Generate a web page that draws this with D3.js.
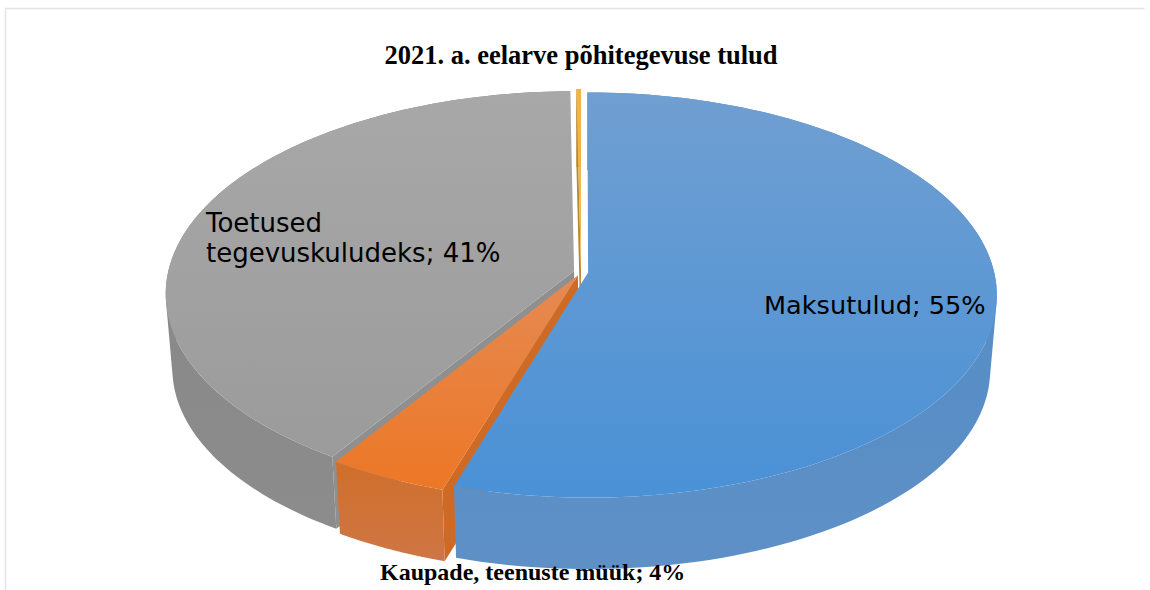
<!DOCTYPE html>
<html>
<head>
<meta charset="utf-8">
<script src="https://cdn.jsdelivr.net/npm/d3@7"></script>
<style>
  html, body { margin: 0; padding: 0; background: #fff; overflow: hidden; }
  svg { display: block; }
</style>
</head>
<body>
<svg id="chart" width="1150" height="590"></svg>
<script>
const title = "2021. a. eelarve põhitegevuse tulud";
const categories = ["Maksutulud", "Kaupade, teenuste müük", "Toetused tegevuskuludeks", "Muud tulud"];
const shares = [54.8, 4.25, 40.75, 0.2];
const topColors = [["#709fd1", "#4a91d6"], ["#e58a52", "#ed7726"], ["#a8a8a8", "#9b9b9b"], ["#f0b545", "#f4b942"]];
const wallColors = [["#4f8cc6", "#5e90c6"], ["#cf6f2b", "#cf7645"], ["#868686", "#8c8c8c"], ["#b8892f", "#b8892f"]];
const radialColors = ["#4f8cc6", "#cf6a25", "#8f8f8f", "#b8892f"];
const drawOrder = [3, 2, 1, 0];

const svg = d3.select("#chart");
const defs = svg.append("defs");

const cx = 581, cy = 272;
const radiusX = 406, radiusY = 200;
const perspective = 0.111; // front of the disc sits closer to the viewer
const depth = 75;
const shrink = 0.016; // bottom face is a bit smaller
const explode = 0.0177;

// u,v are disc coordinates (v grows towards the viewer), z is 0 on top and 1 at the bottom
function project(u, v, z) {
  const s = (1 - shrink * z) / (1 - perspective * v);
  return [cx + radiusX * u * s, cy + radiusY * v * s + depth * z];
}

const pie = d3.pie().sort(null).startAngle(0).endAngle(2 * Math.PI);
const arcs = pie(shares);
const line = d3.line();

function addGradient(id, colors) {
  const g = defs.append("linearGradient").attr("id", id).attr("x1", 0).attr("y1", 0).attr("x2", 0).attr("y2", 1);
  g.append("stop").attr("offset", "0%").attr("stop-color", colors[0]);
  g.append("stop").attr("offset", "100%").attr("stop-color", colors[1]);
}

drawOrder.forEach((i) => {
  const d = arcs[i];
  addGradient("top" + i, topColors[i]);
  addGradient("wall" + i, wallColors[i]);

  const mid = (d.startAngle + d.endAngle) / 2;
  const du = explode * Math.sin(mid);
  const dv = -explode * Math.cos(mid);
  const edge = (a, r, z) => project(du + r * Math.sin(a), dv - r * Math.cos(a), z);
  const steps = d3.range(0, 121).map((k) => d.startAngle + (d.endAngle - d.startAngle) * k / 120);

  const g = svg.append("g").attr("class", "slice");

  // side walls at the cut, only the ones that face the viewer
  const drawRadial = (a) => {
    g.append("path")
      .attr("d", line([edge(a, 0, 0), edge(a, 1, 0), edge(a, 1, 1), edge(a, 0, 1)]) + "Z")
      .attr("fill", radialColors[i]);
  };
  if (-Math.sin(d.startAngle) > 0.001) drawRadial(d.startAngle);
  if (Math.sin(d.endAngle) > 0.001) drawRadial(d.endAngle);

  // outer wall, one quad per step. All quads wound the same way or the
  // back and front ones cancel out where they overlap
  const wall = d3.pairs(steps)
    .map(([a, b]) => {
      const quad = [edge(a, 1, 0), edge(b, 1, 0), edge(b, 1, 1), edge(a, 1, 1)];
      if (d3.polygonArea(quad) < 0) quad.reverse();
      return line(quad) + "Z";
    })
    .join("");
  g.append("path").attr("d", wall).attr("fill", `url(#wall${i})`);

  // top face
  const face = [edge(0, 0, 0)].concat(steps.map((a) => edge(a, 1, 0)));
  g.append("path").attr("d", line(face) + "Z").attr("fill", `url(#top${i})`);
});

// chart frame, only top and left show in the crop
svg.append("path")
  .attr("d", line([[5.5, 590], [5.5, 8.5], [1144.5, 8.5]]))
  .attr("fill", "none")
  .attr("stroke", "#e2e4ea")
  .attr("stroke-width", 1.5);

svg.append("text")
  .attr("x", 581).attr("y", 64)
  .attr("text-anchor", "middle")
  .style("font", "bold 26.5px 'Liberation Serif'")
  .text(title);

svg.append("text").attr("x", 764).attr("y", 314).style("font", "25.6px 'DejaVu Sans'")
  .text(`${categories[0]}; 55%`);

const toetus = svg.append("text").style("font", "26px 'DejaVu Sans'");
toetus.append("tspan").attr("x", 206).attr("y", 232).text("Toetused");
toetus.append("tspan").attr("x", 206).attr("y", 262).text("tegevuskuludeks; 41%");

svg.append("text")
  .attr("x", 380).attr("y", 580)
  .style("font", "bold 24px 'Liberation Serif'")
  .text(`${categories[1]}; 4%`);
</script>
</body>
</html>
